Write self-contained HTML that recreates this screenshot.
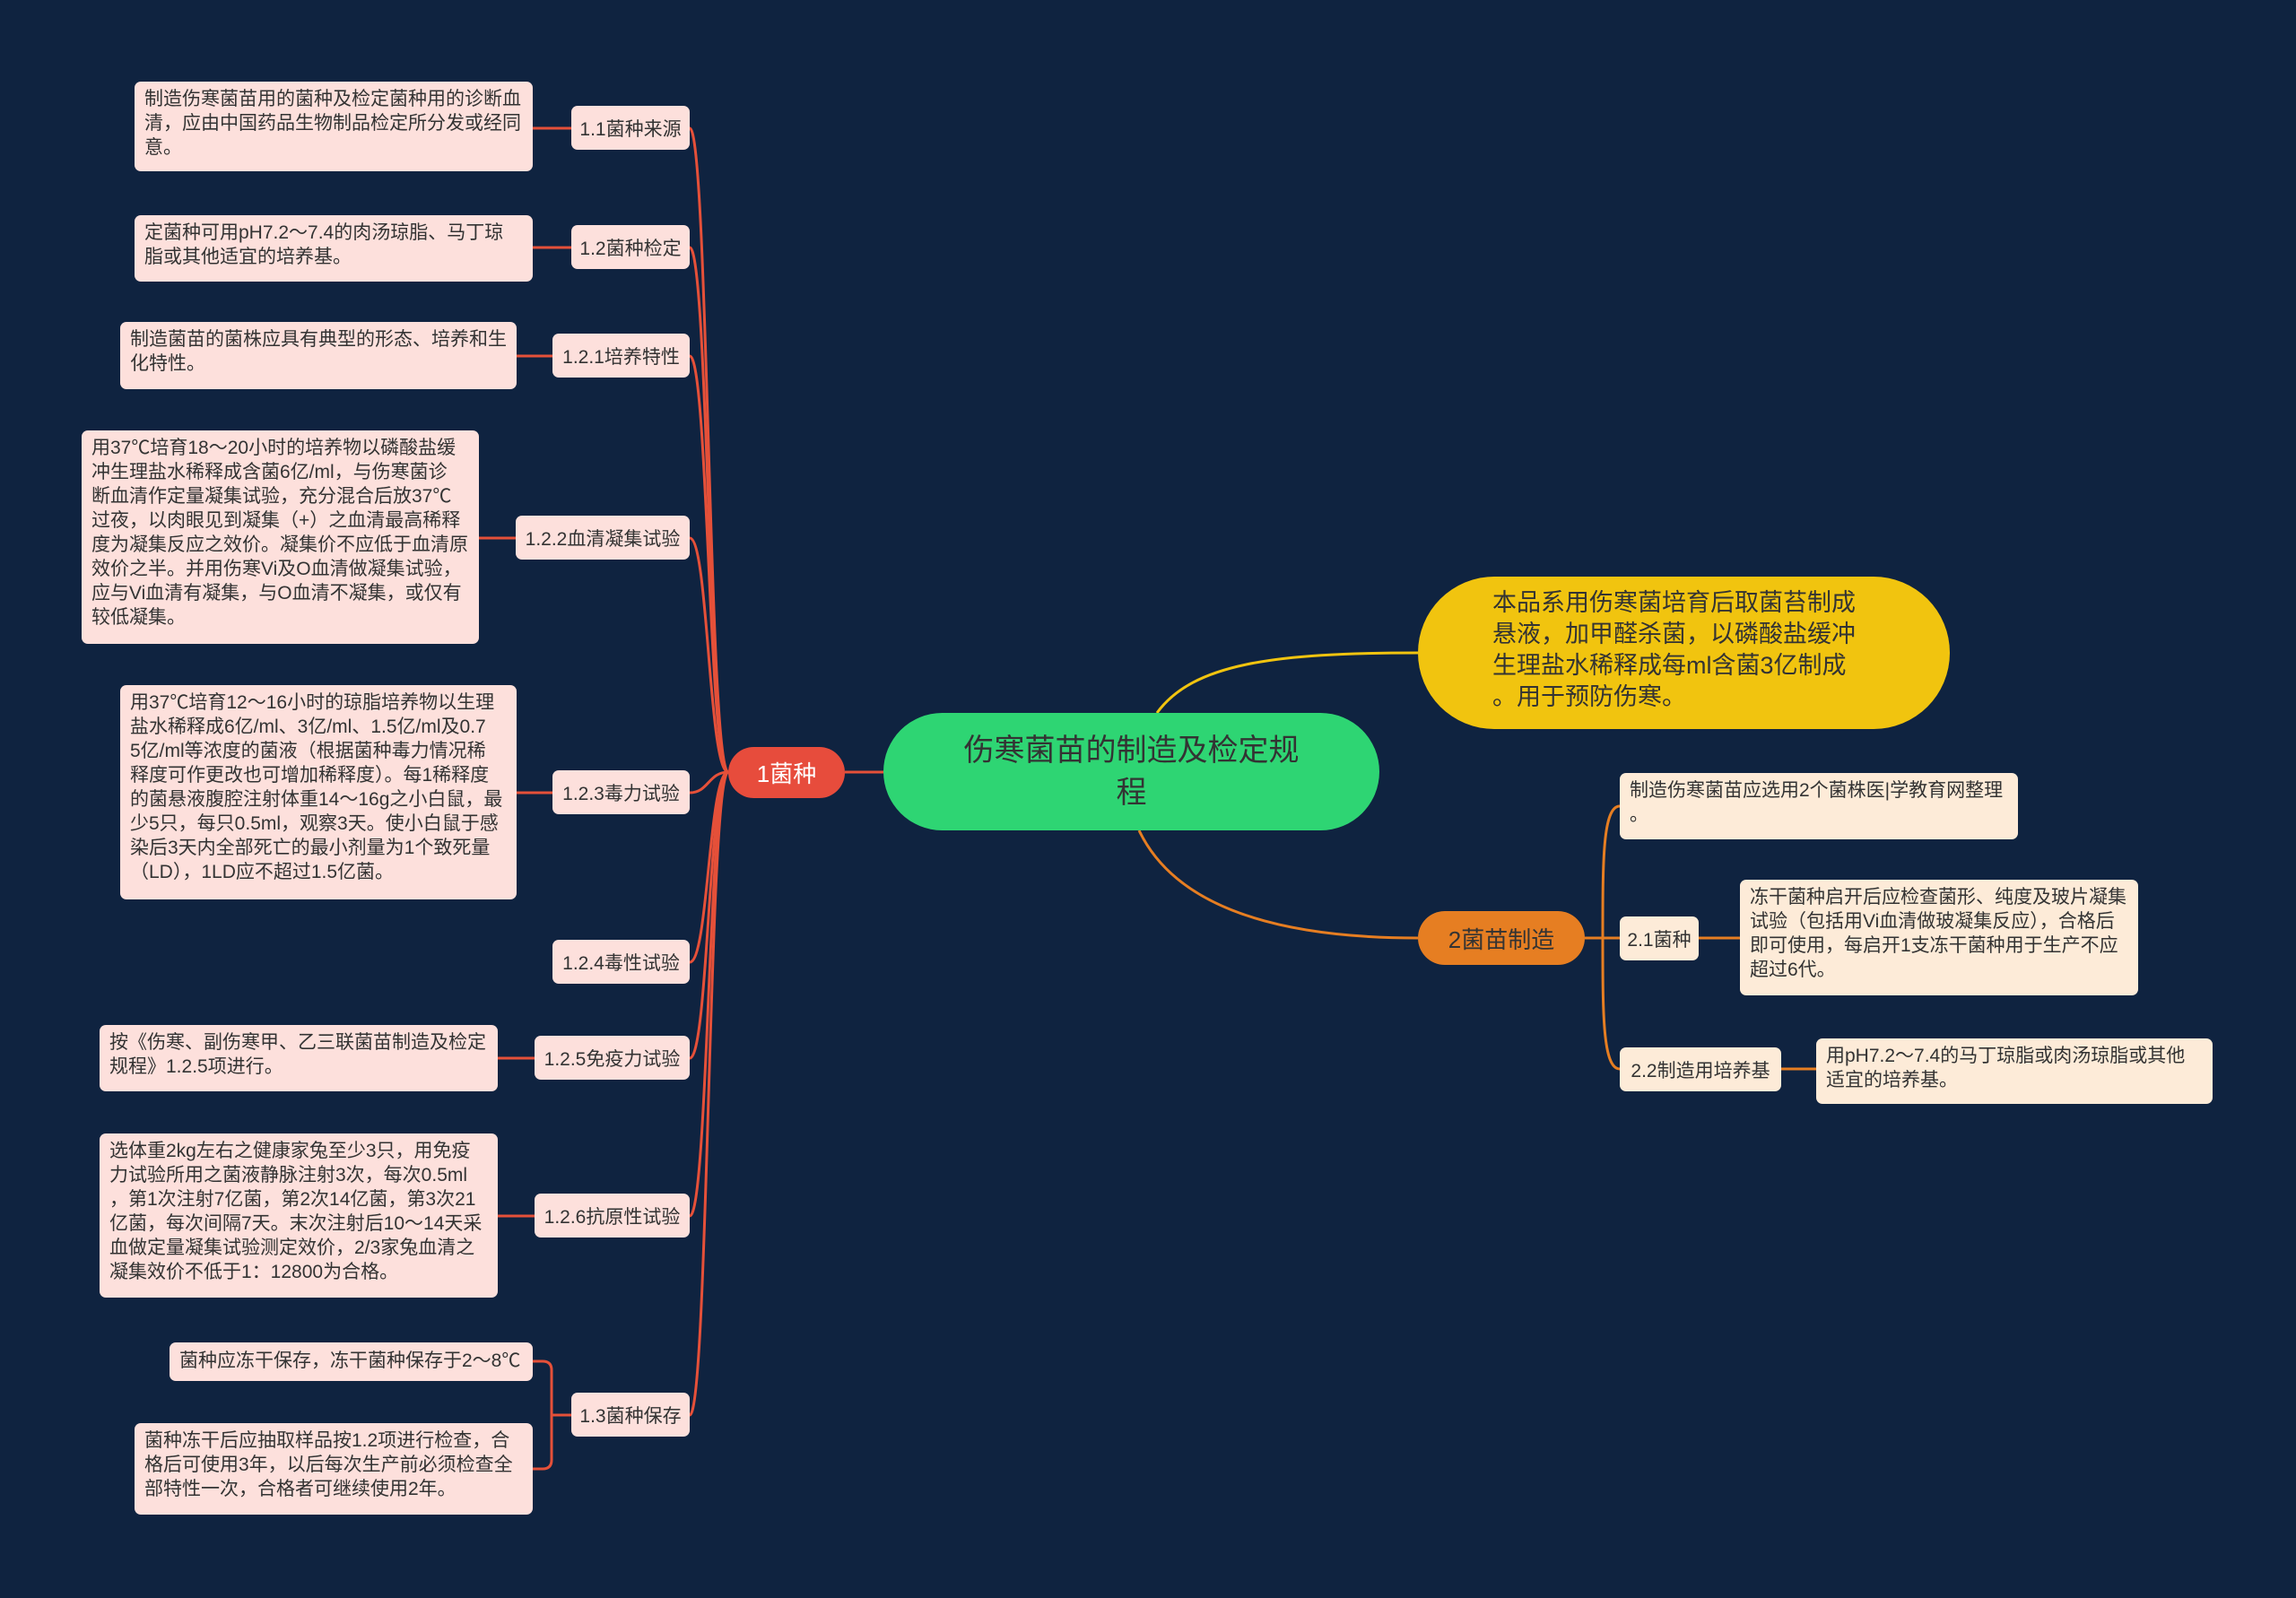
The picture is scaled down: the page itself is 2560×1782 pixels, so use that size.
<!DOCTYPE html>
<html><head><meta charset="utf-8"><style>
body{margin:0;width:2560px;height:1782px;background:#0f2340;position:relative;overflow:hidden;font-family:"Liberation Sans","Noto Sans CJK SC",sans-serif;}
.n{position:absolute;box-sizing:border-box;color:#333;}
.l{background:#fde0dc;border-radius:7px;font-size:21px;line-height:27px;padding:6px 11px;white-space:nowrap;}
.c{background:#fde0dc;border-radius:7px;font-size:21px;display:flex;align-items:center;justify-content:center;white-space:nowrap;}
.r{background:#fdebd8;}
svg{position:absolute;left:0;top:0;}
</style></head><body>
<svg width="2560" height="1782" fill="none">
<g stroke="#e55039" stroke-width="3">
<path d="M985 861 L942 861"/>
<path d="M812 861 C790 861 790 143 769 143"/>
<path d="M812 861 C790 861 790 276 769 276"/>
<path d="M812 861 C790 861 790 397 769 397"/>
<path d="M812 861 C790 861 790 600 769 600"/>
<path d="M812 861 C790 861 790 884 769 884"/>
<path d="M812 861 C790 861 790 1073 769 1073"/>
<path d="M812 861 C790 861 790 1180 769 1180"/>
<path d="M812 861 C790 861 790 1356 769 1356"/>
<path d="M812 861 C790 861 790 1578 769 1578"/>
<path d="M637 143 L594 143"/>
<path d="M637 276 L594 276"/>
<path d="M616 397 L576 397"/>
<path d="M575 600 L534 600"/>
<path d="M616 884 L576 884"/>
<path d="M596 1180 L555 1180"/>
<path d="M596 1356 L555 1356"/>
<path d="M637 1578 L615 1578 M615 1578 L615 1528 Q615 1518 605 1518 L594 1518 M615 1578 L615 1628 Q615 1638 605 1638 L594 1638"/>
</g>
<path d="M1290 795 C1330 740 1420 728 1581 728" stroke="#f1c40f" stroke-width="3"/>
<g stroke="#e67e22" stroke-width="3">
<path d="M1270 926 C1310 1010 1420 1046 1581 1046"/>
<path d="M1767 1046 L1787 1046"/>
<path d="M1787 1046 C1787 960 1787 899 1806 899"/>
<path d="M1787 1046 L1806 1046"/>
<path d="M1787 1046 C1787 1130 1787 1192 1806 1192"/>
<path d="M1894 1046 L1940 1046"/>
<path d="M1986 1192 L2025 1192"/>
</g>
</svg>

<div class="n" style="left:985px;top:795px;width:553px;height:131px;background:#2ed573;border-radius:66px;font-size:34px;line-height:47px;color:#333;display:flex;align-items:center;justify-content:center;text-align:center;padding:0 84px;">伤寒菌苗的制造及检定规程</div>
<div class="n" style="left:1581px;top:643px;width:593px;height:170px;background:#f1c40f;border-radius:85px;font-size:27px;line-height:35px;padding:12px 40px 0 83px;color:#333;white-space:nowrap;">本品系用伤寒菌培育后取菌苔制成<br>悬液，加甲醛杀菌，以磷酸盐缓冲<br>生理盐水稀释成每ml含菌3亿制成<br>。用于预防伤寒。</div>
<div class="n" style="left:812px;top:833px;width:130px;height:57px;background:#e74c3c;border-radius:29px;color:#fff;font-size:26px;display:flex;align-items:center;justify-content:center;">1菌种</div>
<div class="n" style="left:1581px;top:1016px;width:186px;height:60px;background:#e67e22;border-radius:30px;color:#333;font-size:26px;display:flex;align-items:center;justify-content:center;">2菌苗制造</div>

<div class="n c" style="left:637px;top:118px;width:132px;height:49px;">1.1菌种来源</div>
<div class="n c" style="left:637px;top:251px;width:132px;height:49px;">1.2菌种检定</div>
<div class="n c" style="left:616px;top:372px;width:153px;height:49px;">1.2.1培养特性</div>
<div class="n c" style="left:575px;top:575px;width:194px;height:49px;">1.2.2血清凝集试验</div>
<div class="n c" style="left:616px;top:859px;width:153px;height:49px;">1.2.3毒力试验</div>
<div class="n c" style="left:616px;top:1048px;width:153px;height:49px;">1.2.4毒性试验</div>
<div class="n c" style="left:596px;top:1155px;width:173px;height:49px;">1.2.5免疫力试验</div>
<div class="n c" style="left:596px;top:1331px;width:173px;height:49px;">1.2.6抗原性试验</div>
<div class="n c" style="left:637px;top:1553px;width:132px;height:49px;">1.3菌种保存</div>

<div class="n l" style="left:150px;top:91px;width:444px;height:100px;">制造伤寒菌苗用的菌种及检定菌种用的诊断血<br>清，应由中国药品生物制品检定所分发或经同<br>意。</div>
<div class="n l" style="left:150px;top:240px;width:444px;height:74px;">定菌种可用pH7.2～7.4的肉汤琼脂、马丁琼<br>脂或其他适宜的培养基。</div>
<div class="n l" style="left:134px;top:359px;width:442px;height:75px;">制造菌苗的菌株应具有典型的形态、培养和生<br>化特性。</div>
<div class="n l" style="left:91px;top:480px;width:443px;height:238px;">用37℃培育18～20小时的培养物以磷酸盐缓<br>冲生理盐水稀释成含菌6亿/ml，与伤寒菌诊<br>断血清作定量凝集试验，充分混合后放37℃<br>过夜，以肉眼见到凝集（+）之血清最高稀释<br>度为凝集反应之效价。凝集价不应低于血清原<br>效价之半。并用伤寒Vi及O血清做凝集试验，<br>应与Vi血清有凝集，与O血清不凝集，或仅有<br>较低凝集。</div>
<div class="n l" style="left:134px;top:764px;width:442px;height:239px;">用37℃培育12～16小时的琼脂培养物以生理<br>盐水稀释成6亿/ml、3亿/ml、1.5亿/ml及0.7<br>5亿/ml等浓度的菌液（根据菌种毒力情况稀<br>释度可作更改也可增加稀释度）。每1稀释度<br>的菌悬液腹腔注射体重14～16g之小白鼠，最<br>少5只，每只0.5ml，观察3天。使小白鼠于感<br>染后3天内全部死亡的最小剂量为1个致死量<br>（LD），1LD应不超过1.5亿菌。</div>
<div class="n l" style="left:111px;top:1143px;width:444px;height:74px;">按《伤寒、副伤寒甲、乙三联菌苗制造及检定<br>规程》1.2.5项进行。</div>
<div class="n l" style="left:111px;top:1264px;width:444px;height:183px;">选体重2kg左右之健康家兔至少3只，用免疫<br>力试验所用之菌液静脉注射3次，每次0.5ml<br>，第1次注射7亿菌，第2次14亿菌，第3次21<br>亿菌，每次间隔7天。末次注射后10～14天采<br>血做定量凝集试验测定效价，2/3家兔血清之<br>凝集效价不低于1：12800为合格。</div>
<div class="n l" style="left:189px;top:1497px;width:405px;height:43px;padding-top:7px;">菌种应冻干保存，冻干菌种保存于2～8℃</div>
<div class="n l" style="left:150px;top:1587px;width:444px;height:102px;">菌种冻干后应抽取样品按1.2项进行检查，合<br>格后可使用3年，以后每次生产前必须检查全<br>部特性一次，合格者可继续使用2年。</div>

<div class="n l r" style="left:1806px;top:862px;width:444px;height:74px;">制造伤寒菌苗应选用2个菌株医|学教育网整理<br>。</div>
<div class="n c r" style="left:1806px;top:1022px;width:88px;height:49px;">2.1菌种</div>
<div class="n l r" style="left:1940px;top:981px;width:444px;height:129px;">冻干菌种启开后应检查菌形、纯度及玻片凝集<br>试验（包括用Vi血清做玻凝集反应），合格后<br>即可使用，每启开1支冻干菌种用于生产不应<br>超过6代。</div>
<div class="n c r" style="left:1806px;top:1168px;width:180px;height:49px;">2.2制造用培养基</div>
<div class="n l r" style="left:2025px;top:1158px;width:442px;height:73px;">用pH7.2～7.4的马丁琼脂或肉汤琼脂或其他<br>适宜的培养基。</div>
</body></html>
